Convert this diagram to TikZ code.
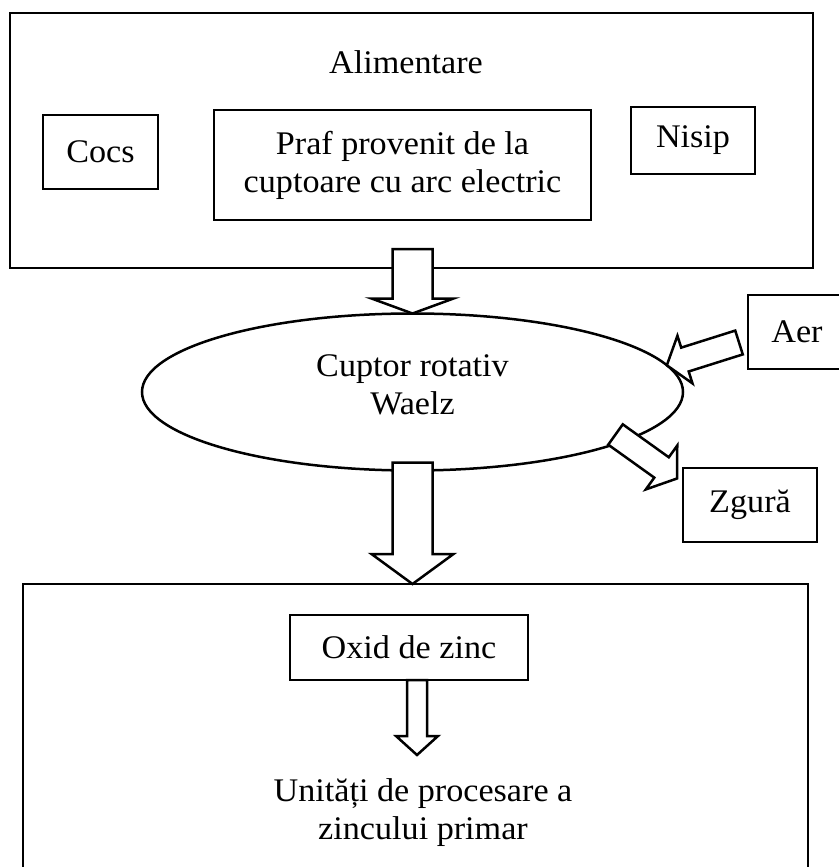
\documentclass[tikz,border=0pt]{standalone}
\usepackage{fontspec}
\setmainfont[FakeStretch=1.035]{Liberation Serif}
\usetikzlibrary{calc,shapes.geometric}
\tikzset{
  boxnode/.style={draw, line width=2.5pt, inner sep=0pt, outer sep=0pt, align=center, fill=white},
  ellnode/.style={draw, ellipse, line width=2.5pt, inner sep=0pt, outer sep=0pt},
  txt/.style={inner sep=0pt, outer sep=0pt, align=center},
  blockstyle/.style={draw, fill=white, line width=2.5pt, line join=miter},
}
\newcommand{\blockarr}[5]{% tail, tip, half shaft, half head, head length
  \coordinate (hb) at ($(#2)!#5!(#1)$);
  \draw[blockstyle] ($(#1)!#3!90:(#2)$) -- ($(hb)!#3!-90:(#1)$) -- ($(hb)!#4!-90:(#1)$) -- (#2)
     -- ($(hb)!#4!90:(#1)$) -- ($(hb)!#3!90:(#1)$) -- ($(#1)!#3!-90:(#2)$) -- cycle;
}
\begin{document}
\begin{tikzpicture}[x=1pt,y=-1pt]
\useasboundingbox (0,0) rectangle (838,867);
\fontsize{33}{38}\selectfont
% top box
\node[boxnode, minimum width=803pt, minimum height=255pt] (alim) at (411.5,140.5) {};
\node[txt] (alimtxt) at (406,62) {Alimentare};
\node[boxnode, minimum width=115pt, minimum height=74pt] (cocs) at (100.5,152) {Cocs};
\node[boxnode, minimum width=377pt, minimum height=110pt] (praf) at (402.5,165) {Praf provenit de la\\cuptoare cu arc electric};
\node[boxnode, minimum width=124pt, minimum height=67pt] (nisip) at (693,140.5) {Nisip};
% bottom box
\node[boxnode, minimum width=785pt, minimum height=316pt] (out) at (415.5,742) {};
\node[boxnode, minimum width=238pt, minimum height=65pt] (oxid) at (409,647.5) {Oxid de zinc};
\node[txt] (unit) at (423,813) {Unități de procesare a\\zincului primar};
% side boxes
\node[boxnode, minimum width=98pt, minimum height=74pt] (aer) at (797,332) {Aer};
\node[boxnode, minimum width=134pt, minimum height=74pt] (zg) at (750,505) {Zgură};
% kiln
\node[ellnode, minimum width=541pt, minimum height=157pt] (kiln) at (412.5,392) {};
\node[txt] (kilntxt) at ($(kiln.center)+(0,-7)$) {Cuptor rotativ\\Waelz};
% arrow end points
\coordinate (a1t) at ($(kiln.north |- alim.south)+(0,-19)$);
\coordinate (a1p) at (kiln.north);
\coordinate (a2t) at ($(kiln.south)+(0,-8)$);
\coordinate (a2p) at (kiln.south |- out.north);
\coordinate (a3t) at ($(oxid.south)+(8,0)$);
\coordinate (a3p) at ($(oxid.south)+(8,75)$);
\coordinate (a4t) at ($(aer.west)+(-9,10.5)$);
\coordinate (a4p) at (kiln.6);
\coordinate (a5t) at ($(kiln.center)+(203,42.5)$);
\coordinate (a5p) at ($(zg.west)+(-6,-26.5)$);
% arrows
\blockarr{a1t}{a1p}{20pt}{41pt}{15pt}
\blockarr{a2t}{a2p}{20pt}{41pt}{30pt}
\blockarr{a3t}{a3p}{10pt}{21pt}{19pt}
\blockarr{a4t}{a4p}{12.5pt}{25pt}{19pt}
\blockarr{a5t}{a5p}{12.5pt}{27pt}{19pt}
\end{tikzpicture}
\end{document}
